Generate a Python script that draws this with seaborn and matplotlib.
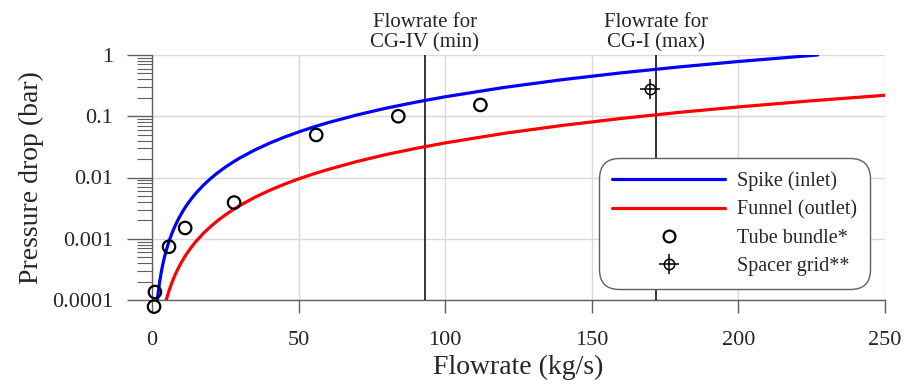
import numpy as np
import pandas as pd
import matplotlib
matplotlib.use("Agg")
import matplotlib.pyplot as plt
import seaborn as sns
from matplotlib.lines import Line2D
from matplotlib.ticker import LogLocator, FuncFormatter, NullFormatter, FixedLocator

# ---- data ----
spike_x = [1.83, 2.0, 2.2, 2.4, 2.6, 2.8, 3, 3.25, 3.5, 3.75, 4, 4.5, 5, 5.5, 6, 7,
           8, 9, 10, 11, 12, 13.5, 15, 17.5, 20, 22.5, 25, 27.5, 30, 35, 40, 45,
           50, 55, 60, 70, 80, 90, 100, 120, 140, 160, 180, 200, 227]
spike_y = [1.0e-4, 1.185e-4, 1.42e-4, 1.678e-4, 1.96e-4, 2.253e-4, 2.57e-4,
           2.995e-4, 3.45e-4, 3.936e-4, 4.45e-4, 5.576e-4, 6.82e-4, 8.18e-4,
           9.66e-4, 1.30e-3, 1.67e-3, 2.095e-3, 2.56e-3, 3.074e-3, 3.63e-3,
           4.546e-3, 5.56e-3, 7.46e-3, 9.63e-3, 0.01206, 0.01475, 0.01769,
           0.0209, 0.02804, 0.0362, 0.04532, 0.0554, 0.06648, 0.0785, 0.1054,
           0.136, 0.170, 0.208, 0.295, 0.396, 0.511, 0.640, 0.783, 1.0]

funnel_x = [4.87, 5.2, 5.5, 6, 6.5, 7, 7.5, 8, 9, 10, 11, 12, 13.5, 15, 17.5, 20,
            22.5, 25, 27.5, 30, 35, 40, 45, 50, 55, 60, 70, 80, 90, 100, 120,
            140, 160, 180, 200, 225, 250]
funnel_y = [1.0e-4, 1.141e-4, 1.27e-4, 1.51e-4, 1.764e-4, 2.04e-4, 2.333e-4,
            2.65e-4, 3.332e-4, 4.09e-4, 4.93e-4, 5.84e-4, 7.355e-4, 9.04e-4,
            1.221e-3, 1.58e-3, 1.995e-3, 2.45e-3, 2.951e-3, 3.50e-3, 4.727e-3,
            6.14e-3, 7.72e-3, 9.49e-3, 0.01142, 0.0135, 0.0183, 0.0238, 0.0299,
            0.0367, 0.0525, 0.0709, 0.092, 0.116, 0.142, 0.179, 0.220]

tube_x = [0.7, 1.0, 5.8, 11.3, 28, 56, 84, 112]
tube_y = [7.8e-5, 1.35e-4, 7.4e-4, 1.5e-3, 3.9e-3, 0.0495, 0.1, 0.153]

spacer_x = [170]
spacer_y = [0.275]

vlines_x = [93, 172]
vline_labels = ["Flowrate for\nCG-IV (min)", "Flowrate for\nCG-I (max)"]

xticks = [0, 50, 100, 150, 200, 250]
yticks = [1e-4, 1e-3, 1e-2, 1e-1, 1]

legend_labels = ["Spike (inlet)", "Funnel (outlet)", "Tube bundle*", "Spacer grid**"]

# ---- styling ----
sns.set_style("white")
plt.rcParams["font.family"] = ["Liberation Serif", "DejaVu Serif"]

fig = plt.figure(figsize=(9.05, 3.85), dpi=100)
ax = fig.add_axes([152 / 905, 85 / 385, 733 / 905, 245 / 385])

grey = "#606060"
df_spike = pd.DataFrame({"x": spike_x, "y": spike_y})
df_funnel = pd.DataFrame({"x": funnel_x, "y": funnel_y})
df_tube = pd.DataFrame({"x": tube_x, "y": tube_y})

sns.lineplot(data=df_spike, x="x", y="y", ax=ax, color="#0000ff", lw=2.3,
             sort=True, estimator=None, zorder=4)
sns.lineplot(data=df_funnel, x="x", y="y", ax=ax, color="#ff0000", lw=2.3,
             sort=True, estimator=None, zorder=4)
sns.scatterplot(data=df_tube, x="x", y="y", ax=ax, marker="o", s=80,
                facecolor="none", edgecolor="black", linewidth=1.6,
                clip_on=False, zorder=6)
ax.plot(spacer_x, spacer_y, ls="none", marker="o", ms=7.5, mfc="none",
        mec="black", mew=1.1, zorder=6)
ax.plot(spacer_x, spacer_y, ls="none", marker="+", ms=14, mec="black",
        mew=1.1, zorder=6)

for xv, lab in zip(vlines_x, vline_labels):
    ax.axvline(xv, color="black", lw=1.1, zorder=3)
    ax.text(xv, 1.1, lab, ha="center", va="bottom", fontsize=15,
            linespacing=1.12, transform=ax.transData, clip_on=False)

ax.set_yscale("log")
ax.set_xlim(0, 250)
ax.set_ylim(1e-4, 1)

ax.xaxis.set_major_locator(FixedLocator(xticks))
ax.yaxis.set_major_locator(FixedLocator(yticks))
ax.yaxis.set_major_formatter(FuncFormatter(lambda v, p: f"{v:g}"))
ax.yaxis.set_minor_locator(LogLocator(base=10, subs=np.arange(2, 10)))
ax.yaxis.set_minor_formatter(NullFormatter())

ax.grid(True, which="major", color="#d9d9d9", lw=1.0, zorder=0)
ax.set_axisbelow(True)
for s in ["top", "right"]:
    ax.spines[s].set_visible(False)
for s in ["left", "bottom"]:
    ax.spines[s].set_color(grey)
    ax.spines[s].set_linewidth(1.0)

ax.tick_params(axis="y", which="major", length=18, width=1.0, color=grey,
               labelsize=16, pad=10, direction="out", left=True)
ax.tick_params(axis="y", which="minor", length=11, width=0.8, color=grey,
               direction="out", left=True)
ax.tick_params(axis="x", which="major", length=9.5, width=1.0, color=grey,
               labelsize=16, pad=13, direction="out", bottom=True)

ax.set_xlabel("Flowrate (kg/s)", fontsize=20, labelpad=3)
ax.set_ylabel("Pressure drop (bar)", fontsize=20, labelpad=6)

handles = [
    Line2D([], [], color="#0000ff", lw=2.3),
    Line2D([], [], color="#ff0000", lw=2.3),
    Line2D([], [], ls="none", marker="o", ms=8.5, mfc="none", mec="black", mew=1.6),
    (Line2D([], [], ls="none", marker="o", ms=7.5, mfc="none", mec="black", mew=1.1),
     Line2D([], [], ls="none", marker="+", ms=14, mec="black", mew=1.1)),
]
leg = ax.legend(handles, legend_labels, loc="lower right",
                bbox_to_anchor=(0.98, 0.045), fontsize=14.5, frameon=True,
                fancybox=True, handlelength=5.6, handletextpad=0.6,
                labelspacing=0.45, borderpad=0.65, borderaxespad=0)
frame = leg.get_frame()
frame.set_edgecolor(grey)
frame.set_linewidth(1.0)
frame.set_alpha(1)
frame.set_boxstyle("round", pad=0, rounding_size=1.0)

fig.savefig("out.png", dpi=100)
